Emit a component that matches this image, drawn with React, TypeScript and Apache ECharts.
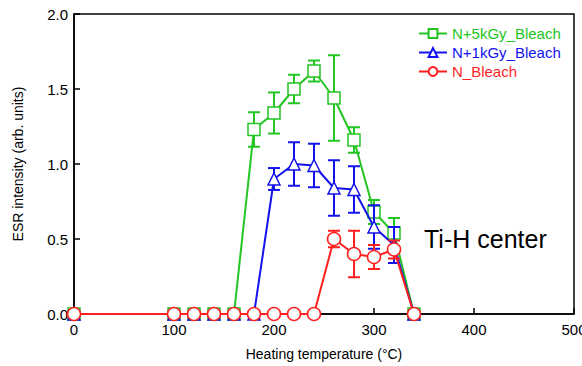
import React, { useEffect, useRef } from "react";
import * as echarts from "echarts";

const temps = [0, 100, 120, 140, 160, 180, 200, 220, 240, 260, 280, 300, 320, 340];
const green = [0, 0, 0, 0, 0, 1.23, 1.34, 1.5, 1.62, 1.44, 1.16, 0.68, 0.54, 0];
const greenErr = [0, 0, 0, 0, 0, 0.115, 0.137, 0.095, 0.07, 0.285, 0.085, 0.08, 0.1, 0];
const blue = [0, 0, 0, 0, 0, 0, 0.9, 1.0, 0.99, 0.84, 0.83, 0.58, 0.46, 0];
const blueErr = [0, 0, 0, 0, 0, 0, 0.073, 0.145, 0.145, 0.185, 0.155, 0.145, 0.12, 0];
const red = [0, 0, 0, 0, 0, 0, 0, 0, 0, 0.5, 0.4, 0.38, 0.43, 0];
const redErr = [0, 0, 0, 0, 0, 0, 0, 0, 0, 0.055, 0.155, 0.08, 0.06, 0];

const names = ["N+5kGy_Bleach", "N+1kGy_Bleach", "N_Bleach"];
const annotation = "Ti-H center";

const GREEN = "#22c522";
const BLUE = "#1212ee";
const RED = "#ff1f1f";
const FONT = "'Liberation Sans', Arial, sans-serif";

function pts(vals: number[]) {
  return temps.map((t, i) => [t, vals[i]]);
}
function bars(vals: number[], errs: number[]) {
  return temps
    .map((t, i) => [t, vals[i] - errs[i], vals[i] + errs[i]])
    .filter((_, i) => errs[i] > 0);
}

function errSeries(data: number[][], color: string, z: number) {
  return {
    type: "custom",
    z,
    silent: true,
    data,
    encode: { x: 0, y: [1, 2] },
    renderItem: (params: any, api: any) => {
      const x = api.value(0);
      const lo = api.coord([x, api.value(1)]);
      const hi = api.coord([x, api.value(2)]);
      const w = 6;
      const style = { stroke: color, lineWidth: 2 };
      return {
        type: "group",
        children: [
          { type: "line", shape: { x1: lo[0], y1: lo[1], x2: hi[0], y2: hi[1] }, style },
          { type: "line", shape: { x1: hi[0] - w, y1: hi[1], x2: hi[0] + w, y2: hi[1] }, style },
          { type: "line", shape: { x1: lo[0] - w, y1: lo[1], x2: lo[0] + w, y2: lo[1] }, style },
        ],
      };
    },
  };
}

function lineSeries(name: string, data: number[][], color: string, symbol: string, size: number, z: number) {
  return {
    name,
    type: "line",
    data,
    z,
    clip: false,
    symbol,
    symbolSize: size,
    showAllSymbol: true,
    lineStyle: { color, width: 2 },
    itemStyle: { color: "#fff", borderColor: color, borderWidth: 1.5 },
    emphasis: { disabled: true },
  };
}

export default function App() {
  const ref = useRef<HTMLDivElement>(null);
  useEffect(() => {
    if (!ref.current) return;
    const chart = echarts.init(ref.current, null, { renderer: "svg" });
    chart.setOption({
      animation: false,
      textStyle: { fontFamily: FONT },
      grid: {
        left: 74,
        top: 14,
        right: 8,
        bottom: 52,
        outerBoundsMode: "none",
        containLabel: false,
        show: true,
        borderColor: "#000",
        borderWidth: 1.5,
      },
      legend: {
        orient: "vertical",
        left: 418,
        top: 26,
        padding: 0,
        itemWidth: 28,
        itemHeight: 11,
        itemGap: 4,
        selectedMode: false,
        textStyle: { fontSize: 15, lineHeight: 15, fontFamily: FONT },
        data: [
          { name: names[0], textStyle: { color: GREEN } },
          { name: names[1], textStyle: { color: BLUE } },
          { name: names[2], textStyle: { color: RED } },
        ],
      },
      xAxis: {
        type: "value",
        min: 0,
        max: 500,
        interval: 100,
        name: "Heating temperature (°C)",
        nameLocation: "middle",
        nameGap: 33,
        nameTextStyle: { fontSize: 14, color: "#000", fontFamily: FONT },
        axisLine: { onZero: false, lineStyle: { color: "#000", width: 1.5 } },
        axisTick: { inside: true, length: 6, lineStyle: { color: "#000", width: 1.5 } },
        axisLabel: { fontSize: 15, color: "#000", margin: 8, fontFamily: FONT },
        splitLine: { show: false },
      },
      yAxis: {
        type: "value",
        min: 0,
        max: 2,
        interval: 0.5,
        name: "ESR intensity (arb. units)",
        nameLocation: "middle",
        nameRotate: 90,
        nameGap: 49,
        nameTextStyle: { fontSize: 14, color: "#000", fontFamily: FONT },
        axisLine: { onZero: false, lineStyle: { color: "#000", width: 1.5 } },
        axisTick: { inside: true, length: 6, lineStyle: { color: "#000", width: 1.5 } },
        axisLabel: {
          fontSize: 15,
          color: "#000",
          margin: 6,
          fontFamily: FONT,
          formatter: (v: number) => v.toFixed(1),
        },
        splitLine: { show: false },
      },
      graphic: [
        {
          type: "text",
          left: 424,
          top: 226,
          style: { text: annotation, fontSize: 25, fill: "#000", fontFamily: FONT },
        },
      ],
      series: [
        errSeries(bars(green, greenErr), GREEN, 1),
        lineSeries(names[0], pts(green), GREEN, "rect", 12, 2),
        errSeries(bars(blue, blueErr), BLUE, 3),
        lineSeries(names[1], pts(blue), BLUE, "triangle", 12, 4),
        errSeries(bars(red, redErr), RED, 5),
        lineSeries(names[2], pts(red), RED, "circle", 13, 6),
      ],
    });
    return () => chart.dispose();
  }, []);
  return (
    <div
      ref={ref}
      style={{ position: "fixed", left: 0, top: 0, width: 582, height: 366, background: "#fff" }}
    />
  );
}
